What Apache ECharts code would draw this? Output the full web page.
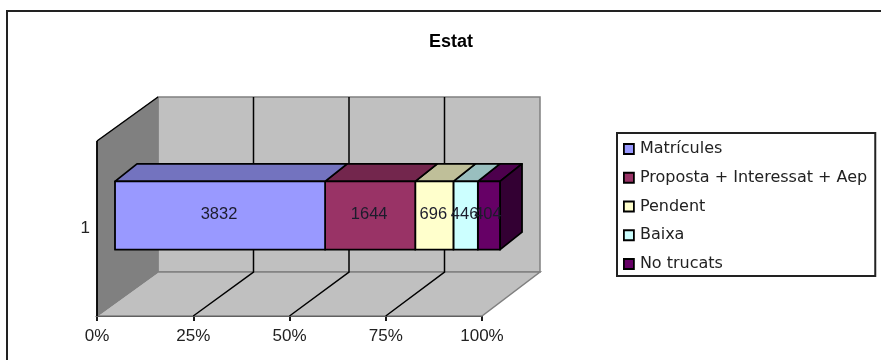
<!DOCTYPE html>
<html>
<head>
<meta charset="utf-8">
<style>html,body{margin:0;padding:0;background:#fff;overflow:hidden}#chart{width:881px;height:360px}</style>
<script src="https://cdn.jsdelivr.net/npm/echarts@6/dist/echarts.min.js"></script>
</head>
<body>
<div id="chart"></div>
<script>
// Estat: single 100% stacked bar with a box-like 3D look
const categories = ['1'];
const seriesNames = ['Matrícules', 'Proposta + Interessat + Aep', 'Pendent', 'Baixa', 'No trucats'];
const seriesValues = [3832, 1644, 696, 446, 404];
const frontColors = ['#9999ff', '#993366', '#ffffcc', '#ccffff', '#660066'];
const topColors = ['#7373bf', '#73264d', '#bfbf99', '#99bfbf', '#4d004d'];
const sideColors = ['#4d4d80', '#4d1a33', '#808066', '#668080', '#330033'];
const tickLabels = ['0%', '25%', '50%', '75%', '100%'];
const fontName = 'Liberation Sans';

const total = seriesValues.reduce((a, b) => a + b, 0);

// Depth of the box and of the bar within it, in pixels
const wall = { dx: 61, dy: -44, dxEnd: 58 };
const bar = { inset: 18, lift: -13, dx: 22, dy: -17.5, heightShare: 0.39 };

function wallDx(t) { return wall.dx + (wall.dxEnd - wall.dx) * t; }

function renderBox(params, api) {
  const p0 = api.coord([0, 0]);
  const p1 = api.coord([1, 0]);
  const size = api.size([0, 1]);
  const yBottom = p0[1] + size[1] / 2;
  const yTop = p0[1] - size[1] / 2;
  const x0 = p0[0], x1 = p1[0];
  const bx0 = x0 + wall.dx, bx1 = x1 + wall.dxEnd;
  const by0 = yTop + wall.dy, by1 = yBottom + wall.dy;
  const children = [
    { type: 'polygon', shape: { points: [[bx0, by0], [bx1, by0], [bx1, by1], [bx0, by1]] },
      style: { fill: '#c0c0c0', stroke: '#808080', lineWidth: 1.5 } },
    { type: 'polygon', shape: { points: [[x0, yBottom], [bx0, by1], [bx1, by1], [x1, yBottom]] },
      style: { fill: '#c0c0c0', stroke: '#808080', lineWidth: 1.5 } },
    { type: 'polygon', shape: { points: [[x0, yTop], [bx0, by0], [bx0, by1], [x0, yBottom]] },
      style: { fill: '#808080', stroke: '#808080', lineWidth: 1 } },
    { type: 'line', shape: { x1: x0, y1: yTop, x2: bx0, y2: by0 }, style: { stroke: '#000', lineWidth: 1.5 } },
    { type: 'line', shape: { x1: x0, y1: yTop, x2: x0, y2: yBottom }, style: { stroke: '#000', lineWidth: 1.8 } }
  ];
  [0.25, 0.5, 0.75].forEach(t => {
    const fx = api.coord([t, 0])[0];
    const bx = fx + wallDx(t);
    children.push({ type: 'polyline', shape: { points: [[fx, yBottom], [bx, by1], [bx, by0]] },
      style: { fill: null, stroke: '#000', lineWidth: 1.5 } });
  });
  return { type: 'group', children };
}

function renderSegment(params, api) {
  const idx = params.seriesIndex - 1;
  const start = api.value(0);
  const end = api.value(1);
  const c = api.coord([start, 0]);
  const e = api.coord([end, 0]);
  const band = api.size([0, 1])[1];
  const h = band * bar.heightShare;
  const x0 = c[0] + bar.inset, x1 = e[0] + bar.inset;
  const yT = c[1] + bar.lift - h / 2, yB = c[1] + bar.lift + h / 2;
  const edge = { stroke: '#000', lineWidth: 1.8, lineJoin: 'round' };
  const children = [
    { type: 'polygon', shape: { points: [[x0, yT], [x0 + bar.dx, yT + bar.dy], [x1 + bar.dx, yT + bar.dy], [x1, yT]] },
      style: Object.assign({ fill: topColors[idx] }, edge) }
  ];
  if (idx === seriesValues.length - 1) {
    children.push({ type: 'polygon', shape: { points: [[x1, yT], [x1 + bar.dx, yT + bar.dy], [x1 + bar.dx, yB + bar.dy], [x1, yB]] },
      style: Object.assign({ fill: sideColors[idx] }, edge) });
  }
  children.push({ type: 'rect', shape: { x: x0, y: yT, width: x1 - x0, height: yB - yT },
    style: Object.assign({ fill: frontColors[idx] }, edge) });
  return { type: 'group', children };
}

// Value labels go last so that neighbouring numbers overlap on top of the bars
function renderLabels(params, api) {
  const start = api.value(0);
  const end = api.value(1);
  const c = api.coord([(start + end) / 2, 0]);
  return { type: 'text', style: {
    x: c[0] + bar.inset - 1, y: c[1] + bar.lift - 1, text: String(api.value(2)),
    font: '16.5px "' + fontName + '"', fill: '#1c1c2c', align: 'center', verticalAlign: 'middle' } };
}

let cum = 0;
const spans = seriesValues.map(v => {
  const s = [cum / total, (cum + v) / total, v];
  cum += v;
  return s;
});

const chart = echarts.init(document.getElementById('chart'), null, { renderer: 'canvas' });
chart.setOption({
  animation: false,
  backgroundColor: '#fff',
  title: {
    text: 'Estat', left: 429, top: 33, padding: 0,
    textStyle: { fontFamily: fontName, fontSize: 18, fontWeight: 'bold', color: '#000' }
  },
  // Outer frame of the chart area; its right and bottom sides run off the page
  graphic: [{
    type: 'polyline', silent: true, z: 0,
    shape: { points: [[7, 360], [7, 11], [881, 11]] },
    style: { fill: null, stroke: '#222', lineWidth: 2 }
  }],
  legend: {
    orient: 'vertical', left: 617, top: 133,
    padding: [8, 8, 4, 6], itemGap: 12.75, itemWidth: 10, itemHeight: 10,
    icon: 'rect', borderColor: '#222', borderWidth: 2, backgroundColor: '#fff',
    data: seriesNames,
    itemStyle: { borderColor: '#000', borderWidth: 1.8 },
    textStyle: { fontFamily: 'DejaVu Sans', fontSize: 16, color: '#222', padding: [0, 0, 0, 1] }
  },
  grid: { left: 97, width: 385, top: 141, height: 175 },
  xAxis: {
    type: 'value', min: 0, max: 1, interval: 0.25,
    axisLine: { show: true, lineStyle: { color: '#000', width: 1.8 } },
    axisTick: { show: true, length: 5, lineStyle: { color: '#000', width: 1.8 } },
    splitLine: { show: false },
    axisLabel: { margin: 12, fontFamily: fontName, fontSize: 17, color: '#222',
      formatter: v => tickLabels[Math.round(v * 4)], hideOverlap: false }
  },
  yAxis: {
    type: 'category', data: categories,
    axisLine: { show: false }, axisTick: { show: false },
    axisLabel: { margin: 7, fontFamily: fontName, fontSize: 17, color: '#222' }
  },
  series: [
    { type: 'custom', silent: true, renderItem: renderBox, data: [[0]], encode: { x: 0, y: -1 }, z: 1 }
  ].concat(seriesNames.map((name, i) => ({
    type: 'custom', name, renderItem: renderSegment, silent: true, z: 2 + (seriesNames.length - i),
    itemStyle: { color: frontColors[i] },
    encode: { x: [0, 1] },
    data: [spans[i]]
  }))).concat([
    { type: 'custom', silent: true, renderItem: renderLabels, encode: { x: [0, 1] }, z: 20, data: spans }
  ])
});
</script>
</body>
</html>
